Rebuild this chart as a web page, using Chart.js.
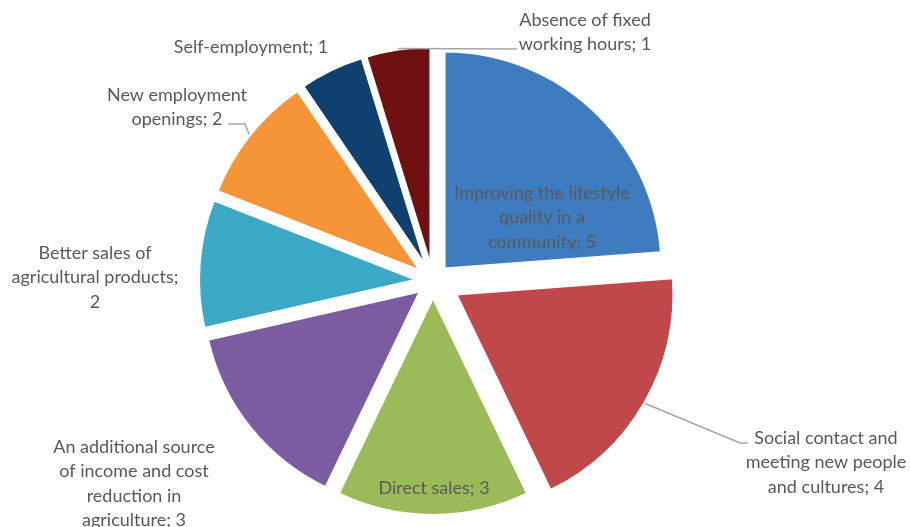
<!DOCTYPE html>
<html><head><meta charset="utf-8">
<script src="https://cdn.jsdelivr.net/npm/chart.js@4/dist/chart.umd.min.js"></script>
<style>html,body{margin:0;padding:0;background:#fff}#wrap{width:910px;height:527px}</style>
</head><body><div id="wrap"><canvas id="c" width="910" height="527"></canvas></div>
<script>
const categories = [
  "Improving the lifestyle quality in a community",
  "Social contact and meeting new people and cultures",
  "Direct sales",
  "An additional source of income and cost reduction in agriculture",
  "Better sales of agricultural products",
  "New employment openings",
  "Self-employment",
  "Absence of fixed working hours"
];
const values = [5, 4, 3, 3, 2, 2, 1, 1];
const sliceColors = ["#3F7BBF", "#C0474A", "#9BBB59", "#7B5CA0", "#3BA8C5", "#F59537", "#0F406E", "#6F1011"];
const labelText = [
  ["Improving the lifestyle", "quality in a", "community; 5"],
  ["Social contact and", "meeting new people", "and cultures; 4"],
  ["Direct sales; 3"],
  ["An additional source", "of income and cost", "reduction in", "agriculture; 3"],
  ["Better sales of", "agricultural products;", "2"],
  ["New employment", "openings; 2"],
  ["Self-employment; 1"],
  ["Absence of fixed", "working hours; 1"]
];
// label layout: centre of first text line, and leader-line path (after the arc edge point)
const labelLayout = [
  {x: 542, y: 193, leader: null},
  {x: 826, y: 438, leader: [[740, 443], [748, 443]]},
  {x: 434, y: 488, leader: null},
  {x: 134, y: 447, leader: null},
  {x: 95, y: 253, leader: null},
  {x: 177, y: 95, leader: [[245, 124], [228, 124]]},
  {x: 251, y: 47, leader: null},
  {x: 585, y: 20, leader: [[517, 49]]}
];
const explodeBy = [17, 27, 17, 17, 17, 17, 17, 17];
const FONT = '18px Lato';
const LINE_H = 24.5;
const TEXT_COLOR = '#595959';

const explodePlugin = {
  id: 'explode',
  afterDatasetUpdate(chart, args) {
    args.meta.data.forEach((el, i) => {
      const mid = (el.startAngle + el.endAngle) / 2;
      el.x += Math.cos(mid) * explodeBy[i];
      el.y += Math.sin(mid) * explodeBy[i];
    });
  }
};

const labelPlugin = {
  id: 'sliceLabels',
  afterDraw(chart) {
    const ctx = chart.ctx;
    const meta = chart.getDatasetMeta(0);
    ctx.save();
    meta.data.forEach((el, i) => {
      const lay = labelLayout[i];
      if (lay.leader) {
        const mid = (el.startAngle + el.endAngle) / 2;
        const r = el.outerRadius + 1;
        ctx.beginPath();
        ctx.moveTo(el.x + Math.cos(mid) * r, el.y + Math.sin(mid) * r);
        lay.leader.forEach(p => ctx.lineTo(p[0], p[1]));
        ctx.strokeStyle = '#A6A6A6';
        ctx.lineWidth = 1.5;
        ctx.stroke();
      }
      ctx.font = FONT;
      ctx.fillStyle = TEXT_COLOR;
      ctx.textAlign = 'center';
      ctx.textBaseline = 'middle';
      labelText[i].forEach((line, k) => {
        ctx.fillText(line, lay.x, lay.y + k * LINE_H);
      });
    });
    ctx.restore();
  }
};

new Chart(document.getElementById('c'), {
  type: 'pie',
  data: {
    labels: categories,
    datasets: [{
      data: values,
      backgroundColor: sliceColors,
      borderColor: '#ffffff',
      borderWidth: 2,
      offset: 0
    }]
  },
  options: {
    responsive: false,
    animation: false,
    radius: 217,
    layout: {padding: {left: 0, right: 44, top: 35, bottom: 0}},
    plugins: {legend: {display: false}, tooltip: {enabled: false}}
  },
  plugins: [explodePlugin, labelPlugin]
});
</script>
</body></html>
